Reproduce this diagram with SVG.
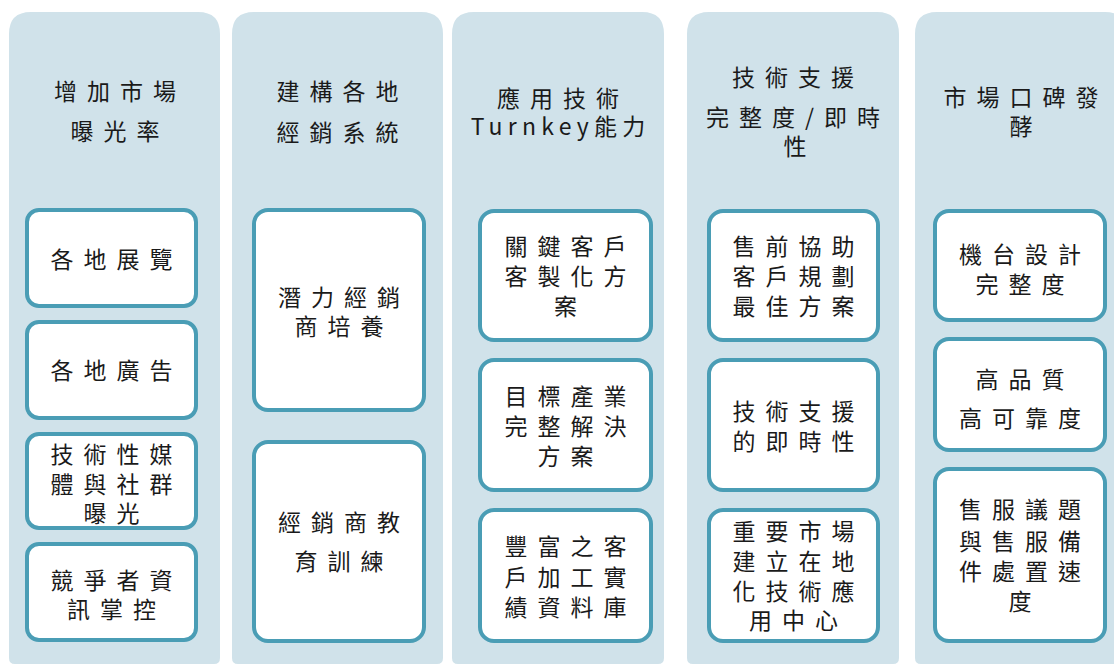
<svg xmlns="http://www.w3.org/2000/svg" width="1114" height="665" viewBox="0 0 1114 665">
<style>
.col{fill:#D0E2EA;}
.box{fill:#FFFFFF;stroke:#4A9DB5;stroke-width:4;}
text{font-family:"Noto Sans CJK TC","Noto Sans CJK SC",sans-serif;font-size:23px;fill:#1a1a1a;text-anchor:middle;dominant-baseline:central;letter-spacing:10px;}
</style>
<rect width="1114" height="665" fill="#FFFFFF"/>
<g id="connectors"/>

<g id="col1">
<path class="col" d="M9,664 V34 Q9,12 31,12 H198 Q220,12 220,34 V658 Q220,664 214,664 H15 Q9,664 9,658 Z"/>
<text x="120" y="90">增加市場</text>
<text x="120" y="130">曝光率</text>
<g id="c1b1"><rect class="box" x="27" y="210" width="169" height="96" rx="12"/><text x="116.5" y="258">各地展覽</text></g>
<g id="c1b2"><rect class="box" x="27" y="322" width="169" height="96" rx="12"/><text x="116.5" y="369">各地廣告</text></g>
<g id="c1b3"><rect class="box" x="27" y="434" width="169" height="94" rx="12"/><text x="116.5" y="453">技術性媒</text><text x="116.5" y="483">體與社群</text><text x="116.5" y="512">曝光</text></g>
<g id="c1b4"><rect class="box" x="27" y="544" width="169" height="96" rx="12"/><text x="116.5" y="579">競爭者資</text><text x="116.5" y="608">訊掌控</text></g>
</g>

<g id="col2">
<path class="col" d="M232,664 V34 Q232,12 254,12 H421 Q443,12 443,34 V658 Q443,664 437,664 H238 Q232,664 232,658 Z"/>
<text x="342.5" y="90">建構各地</text>
<text x="342.5" y="131">經銷系統</text>
<g id="c2b1"><rect class="box" x="254" y="210" width="170" height="200" rx="14"/><text x="344" y="296">潛力經銷</text><text x="344" y="325">商培養</text></g>
<g id="c2b2"><rect class="box" x="254" y="442" width="170" height="199" rx="14"/><text x="344" y="521">經銷商教</text><text x="344" y="560">育訓練</text></g>
</g>

<g id="col3">
<path class="col" d="M452,664 V34 Q452,12 474,12 H642 Q664,12 664,34 V658 Q664,664 658,664 H458 Q452,664 452,658 Z"/>
<text x="563" y="97">應用技術</text>
<text x="560.6" y="125" style="letter-spacing:5.25px">Turnkey能力</text>
<g id="c3b1"><rect class="box" x="480" y="211" width="171" height="129" rx="14"/><text x="570.5" y="245">關鍵客戶</text><text x="570.5" y="275">客製化方</text><text x="570.5" y="305">案</text></g>
<g id="c3b2"><rect class="box" x="480" y="360" width="171" height="130" rx="14"/><text x="570.5" y="395">目標產業</text><text x="570.5" y="425">完整解決</text><text x="570.5" y="455">方案</text></g>
<g id="c3b3"><rect class="box" x="480" y="510" width="171" height="131" rx="14"/><text x="570.5" y="545">豐富之客</text><text x="570.5" y="576">戶加工實</text><text x="570.5" y="606">績資料庫</text></g>
</g>

<g id="col4">
<path class="col" d="M687,664 V34 Q687,12 709,12 H877 Q899,12 899,34 V658 Q899,664 893,664 H693 Q687,664 687,658 Z"/>
<text x="798" y="76">技術支援</text>
<text x="798" y="116">完整度/即時</text>
<text x="800" y="145">性</text>
<g id="c4b1"><rect class="box" x="709" y="211" width="169" height="129" rx="14"/><text x="798.5" y="245">售前協助</text><text x="798.5" y="275">客戶規劃</text><text x="798.5" y="305">最佳方案</text></g>
<g id="c4b2"><rect class="box" x="709" y="360" width="169" height="130" rx="14"/><text x="798.5" y="410">技術支援</text><text x="798.5" y="440">的即時性</text></g>
<g id="c4b3"><rect class="box" x="709" y="510" width="169" height="131" rx="14"/><text x="798.5" y="530">重要市場</text><text x="798.5" y="560">建立在地</text><text x="798.5" y="590">化技術應</text><text x="798.5" y="619">用中心</text></g>
</g>

<g id="col5">
<path class="col" d="M915,664 V34 Q915,12 937,12 H1105 Q1127,12 1127,34 V658 Q1127,664 1121,664 H921 Q915,664 915,658 Z"/>
<text x="1026" y="96">市場口碑發</text>
<text x="1026" y="125">酵</text>
<g id="c5b1"><rect class="box" x="935" y="211" width="170" height="109" rx="14"/><text x="1025" y="253">機台設計</text><text x="1025" y="283">完整度</text></g>
<g id="c5b2"><rect class="box" x="935" y="339" width="170" height="111" rx="14"/><text x="1025" y="378">高品質</text><text x="1025" y="417">高可靠度</text></g>
<g id="c5b3"><rect class="box" x="935" y="469" width="170" height="172" rx="14"/><text x="1025" y="508">售服議題</text><text x="1025" y="540">與售服備</text><text x="1025" y="570">件處置速</text><text x="1025" y="600">度</text></g>
</g>
</svg>
